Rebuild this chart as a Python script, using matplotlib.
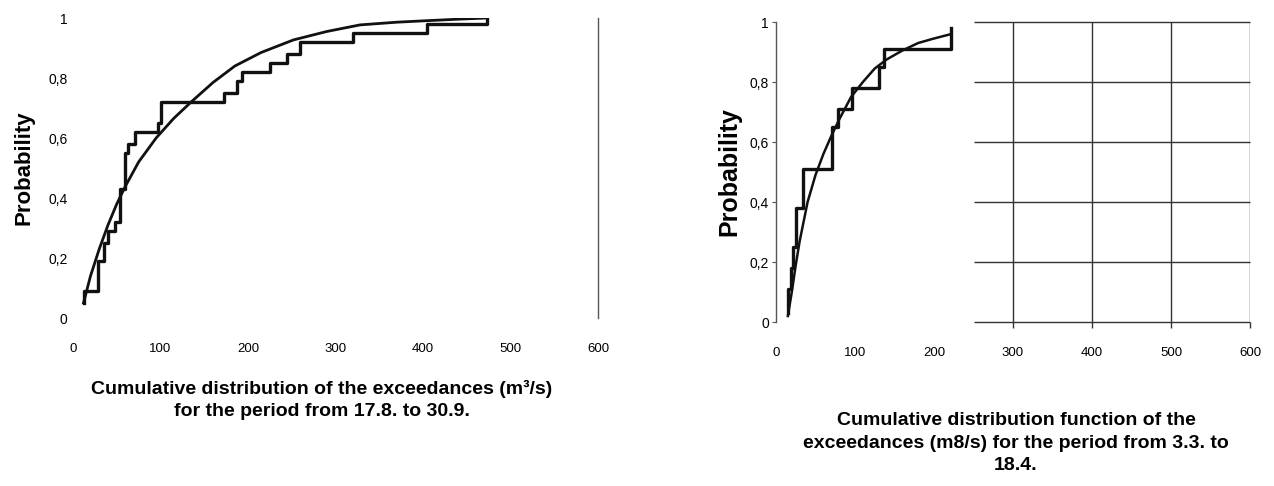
import matplotlib
matplotlib.use("Agg")
import matplotlib.pyplot as plt
from matplotlib import font_manager

# =========================
# DATA
# =========================
# left panel: 17.8. - 30.9.
left_step_x = [12, 12, 29, 35, 40, 48, 54, 59, 63, 71, 97, 100, 172, 187, 193, 225, 244, 259, 320, 404, 473]
left_step_p = [0.05, 0.09, 0.19, 0.25, 0.29, 0.32, 0.43, 0.55, 0.58, 0.62, 0.65, 0.72, 0.75, 0.79, 0.82,
               0.85, 0.88, 0.92, 0.95, 0.98, 1.0]
left_fit_x = [12, 20, 30, 40, 50, 60, 75, 95, 115, 135, 160, 185, 215, 252, 290, 328, 370, 404, 440, 473]
left_fit_p = [0.05, 0.14, 0.23, 0.31, 0.38, 0.44, 0.52, 0.60, 0.665, 0.72, 0.785, 0.84, 0.885, 0.927,
              0.955, 0.977, 0.986, 0.991, 0.996, 1.0]

# right panel: 3.3. - 18.4.
right_step_x = [15, 15, 19, 22, 25, 34, 71, 79, 96, 130, 137, 222]
right_step_p = [0.03, 0.11, 0.18, 0.25, 0.38, 0.51, 0.65, 0.71, 0.78, 0.85, 0.91, 0.98]
right_fit_x = [15, 20, 25, 30, 40, 50, 60, 70, 80, 95, 110, 125, 140, 160, 180, 200, 222]
right_fit_p = [0.02, 0.10, 0.19, 0.27, 0.40, 0.49, 0.56, 0.62, 0.675, 0.75, 0.80, 0.845, 0.875,
               0.905, 0.93, 0.945, 0.96]

x_ticks = [0, 100, 200, 300, 400, 500, 600]
y_ticks = [0, 0.2, 0.4, 0.6, 0.8, 1]
y_labels = ["0", "0,2", "0,4", "0,6", "0,8", "1"]

left_title = "Cumulative distribution of the exceedances (m\u00b3/s)\nfor the period from 17.8. to 30.9."
right_title = "Cumulative distribution function of the\nexceedances (m8/s) for the period from 3.3. to\n18.4."

# =========================
# FONTS
# =========================
installed = {f.name for f in font_manager.fontManager.ttflist}
narrow = "Liberation Sans Narrow" if "Liberation Sans Narrow" in installed else "Liberation Sans"
plt.rcParams["font.family"] = ["Liberation Sans", "DejaVu Sans"]

fig = plt.figure(figsize=(12.74, 4.86), dpi=100)

# =========================
# LEFT PANEL
# =========================
ax1 = fig.add_axes([73 / 1274, 1 - 318 / 486, 525 / 1274, 300 / 486])
ax1.plot(left_step_x, left_step_p, drawstyle="steps-post", color="#111111", lw=2.4)
ax1.plot(left_fit_x, left_fit_p, color="#111111", lw=2.0)
ax1.set_xlim(0, 600)
ax1.set_ylim(0, 1)
ax1.set_xticks(x_ticks)
ax1.set_xticklabels([str(t) for t in x_ticks], fontsize=9.5, family=narrow)
ax1.set_yticks(y_ticks)
ax1.set_yticklabels(y_labels, fontsize=10)
ax1.tick_params(axis="x", length=0, pad=18)
ax1.tick_params(axis="y", length=0, pad=4)
for s in ["left", "top", "bottom"]:
    ax1.spines[s].set_visible(False)
ax1.spines["right"].set_color("#555555")
ax1.spines["right"].set_linewidth(1.0)
ax1.set_ylabel("Probability", fontsize=16, fontweight="bold", labelpad=10)
fig.text(322 / 1274, 1 - 400 / 486, left_title, ha="center", va="center", fontsize=14,
         fontweight="bold", family=narrow, linespacing=1.45)

# =========================
# RIGHT PANEL
# =========================
ax2 = fig.add_axes([776 / 1274, 1 - 322 / 486, 474 / 1274, 300 / 486])
ax2.plot(right_step_x, right_step_p, drawstyle="steps-post", color="#111111", lw=2.4)
ax2.plot(right_fit_x, right_fit_p, color="#111111", lw=1.8)
# grid only on the right part of the plot area
ax2.hlines(y_ticks, 250, 600, color="#333333", lw=1.0, clip_on=False)
ax2.vlines(x_ticks[3:], 0, 1, color="#333333", lw=1.0)
ax2.vlines(x_ticks[3:], -0.02, 0, color="#333333", lw=1.0, clip_on=False)
ax2.set_xlim(0, 600)
ax2.set_ylim(0, 1)
ax2.set_xticks(x_ticks)
ax2.set_xticklabels([str(t) for t in x_ticks], fontsize=9.5, family=narrow)
ax2.set_yticks(y_ticks)
ax2.set_yticklabels(y_labels, fontsize=10, family=narrow)
ax2.tick_params(axis="x", length=0, pad=18)
ax2.tick_params(axis="y", length=3, pad=2, color="#555555")
for s in ["right", "top", "bottom"]:
    ax2.spines[s].set_visible(False)
ax2.spines["left"].set_color("#555555")
ax2.spines["left"].set_linewidth(1.0)
ax2.set_ylabel("Probability", fontsize=18, fontweight="bold", labelpad=6)
fig.text(1016 / 1274, 1 - 443 / 486, right_title, ha="center", va="center", fontsize=14,
         fontweight="bold", family=narrow, linespacing=1.45)

fig.savefig("out.png", dpi=100)
